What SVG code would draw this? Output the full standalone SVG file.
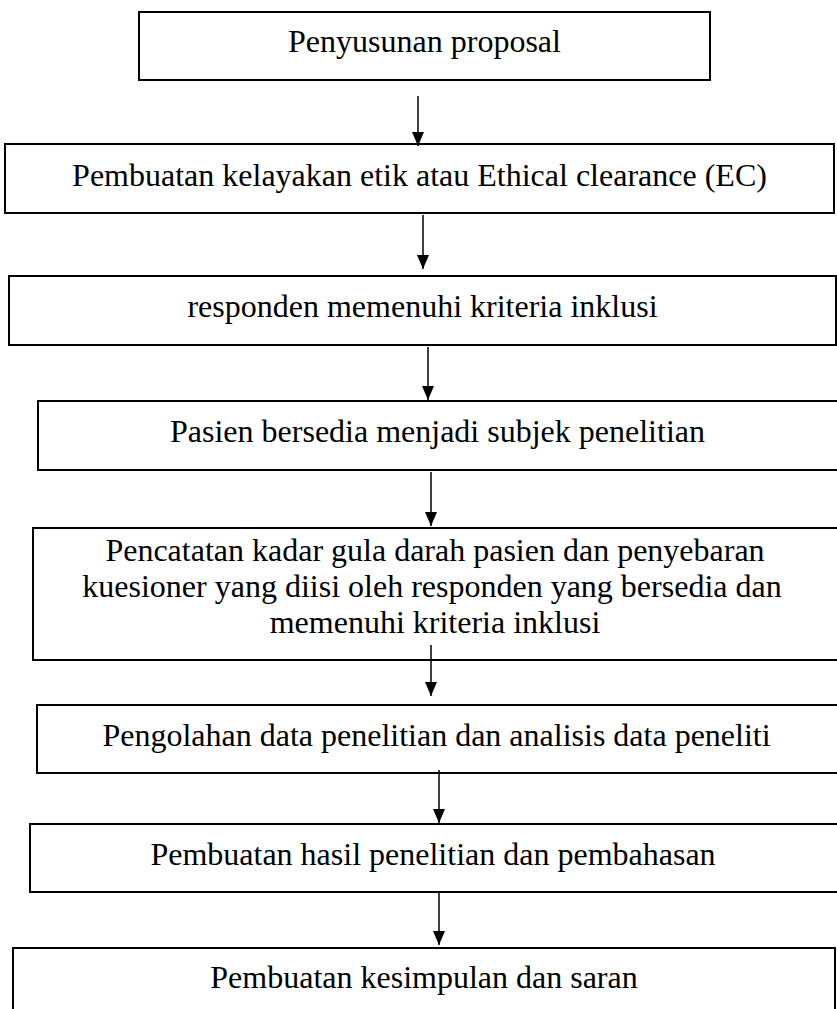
<svg xmlns="http://www.w3.org/2000/svg" width="837" height="1009" viewBox="0 0 837 1009">
<style>
.box{fill:#fff;stroke:#000;stroke-width:2}
.t{font-family:"Liberation Serif","Times New Roman",serif;font-size:32px;fill:#000;text-anchor:middle}
.c{stroke:#000;stroke-width:1.5;fill:none}
</style>
<defs>
<marker id="ah" markerWidth="14" markerHeight="12" refX="14" refY="6" orient="auto" markerUnits="userSpaceOnUse" viewBox="0 0 14 12">
<path d="M0,0 L14,6 L0,12 Z" fill="#000"/>
</marker>
</defs>
<rect width="837" height="1009" fill="#fff"/>
<g id="n1"><rect class="box" x="139" y="12" width="571" height="68"/><text class="t" x="424.5" y="52">Penyusunan proposal</text></g>
<g id="n2"><rect class="box" x="5" y="144" width="829" height="69"/><text class="t" x="419.5" y="186">Pembuatan kelayakan etik atau Ethical clearance (EC)</text></g>
<g id="n3"><rect class="box" x="9" y="276" width="827" height="69"/><text class="t" x="422.5" y="317">responden memenuhi kriteria inklusi</text></g>
<g id="n4"><rect class="box" x="38" y="401" width="810" height="69"/><text class="t" x="437.5" y="442">Pasien bersedia menjadi subjek penelitian</text></g>
<g id="n5"><rect class="box" x="33" y="528" width="815" height="132"/><text class="t" x="435" y="561">Pencatatan kadar gula darah pasien dan penyebaran</text><text class="t" x="432" y="597">kuesioner yang diisi oleh responden yang bersedia dan</text><text class="t" x="435" y="633">memenuhi kriteria inklusi</text></g>
<g id="n6"><rect class="box" x="37" y="705" width="810" height="68"/><text class="t" x="436.5" y="746">Pengolahan data penelitian dan analisis data peneliti</text></g>
<g id="n7"><rect class="box" x="30" y="824" width="817" height="68"/><text class="t" x="433" y="865">Pembuatan hasil penelitian dan pembahasan</text></g>
<g id="n8"><rect class="box" x="13" y="948" width="822" height="80"/><text class="t" x="424" y="988">Pembuatan kesimpulan dan saran</text></g>
<g id="connectors">
<line class="c" x1="418" y1="96" x2="418" y2="146" marker-end="url(#ah)"/>
<line class="c" x1="423" y1="215" x2="423" y2="269" marker-end="url(#ah)"/>
<line class="c" x1="428" y1="347" x2="428" y2="400" marker-end="url(#ah)"/>
<line class="c" x1="431" y1="472" x2="431" y2="526" marker-end="url(#ah)"/>
<line class="c" x1="431" y1="645" x2="431" y2="696" marker-end="url(#ah)"/>
<line class="c" x1="439" y1="770" x2="439" y2="823" marker-end="url(#ah)"/>
<line class="c" x1="439" y1="893" x2="439" y2="945" marker-end="url(#ah)"/>
</g>
</svg>
